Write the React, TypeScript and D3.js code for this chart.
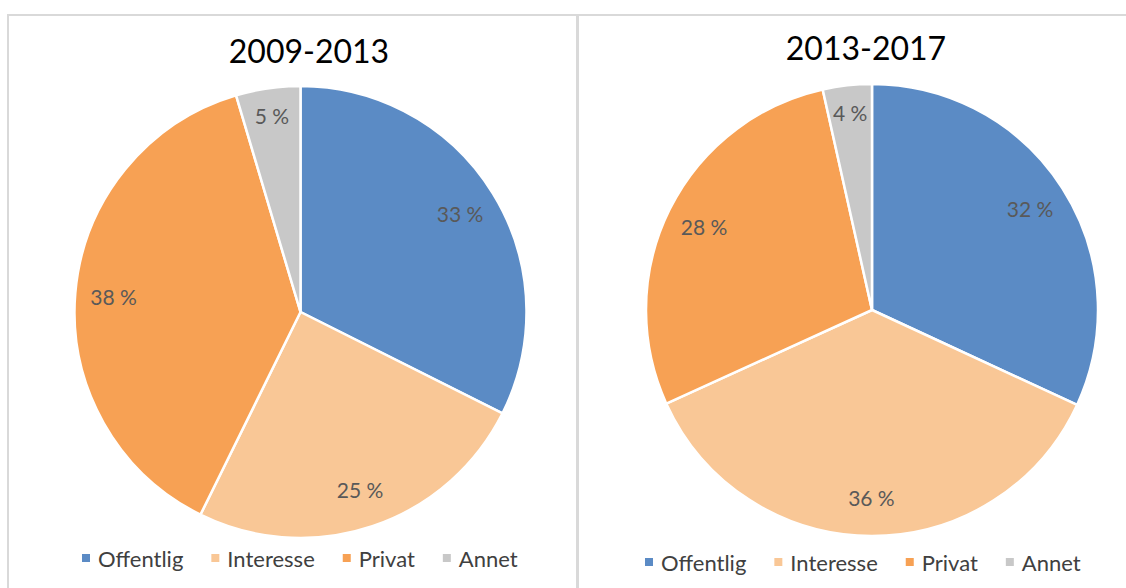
import React, { useEffect, useRef } from "react";
import * as d3 from "d3";

const categories = ["Offentlig", "Interesse", "Privat", "Annet"];
const colors = ["#5B8BC5", "#F9C796", "#F7A154", "#C8C8C8"];
const titles = ["2009-2013", "2013-2017"];
const values2009 = [32.4, 24.9, 38.1, 4.6];
const values2013 = [31.9, 36.3, 28.3, 3.5];
const labels2009 = ["33 %", "25 %", "38 %", "5 %"];
const labels2013 = ["32 %", "36 %", "28 %", "4 %"];

const W = 1126;
const H = 588;
const FONT = "Lato, 'Open Sans', sans-serif";

export default function App() {
  const ref = useRef<SVGSVGElement>(null);

  useEffect(() => {
    const svg = d3.select(ref.current);
    svg.selectAll("*").remove();

    svg.append("rect").attr("width", W).attr("height", H).attr("fill", "#fff");

    const border = "#D9D9D9";
    svg.append("line").attr("x1", 7).attr("x2", W).attr("y1", 15).attr("y2", 15)
      .attr("stroke", border).attr("stroke-width", 2);
    svg.append("line").attr("x1", 8).attr("x2", 8).attr("y1", 14).attr("y2", H)
      .attr("stroke", border).attr("stroke-width", 2);
    svg.append("line").attr("x1", 577.5).attr("x2", 577.5).attr("y1", 14).attr("y2", H)
      .attr("stroke", border).attr("stroke-width", 3);

    const panels = [
      { values: values2009, labels: labels2009, title: titles[0], cx: 300.5, cy: 312, r: 226, tx: 309, ty: 63, lx: 82, ly: 558 },
      { values: values2013, labels: labels2013, title: titles[1], cx: 872, cy: 310, r: 226, tx: 866, ty: 60, lx: 645, ly: 562 },
    ];

    const pie = d3.pie<number>().value((d) => d).sort(null);

    panels.forEach((p) => {
      const g = svg.append("g").attr("transform", `translate(${p.cx},${p.cy})`);
      const arcs = pie(p.values);
      const arc = d3.arc<d3.PieArcDatum<number>>().innerRadius(0).outerRadius(p.r);
      const labelArc = d3.arc<d3.PieArcDatum<number>>().innerRadius(p.r * 0.83).outerRadius(p.r * 0.83);
      const labelArcSmall = d3.arc<d3.PieArcDatum<number>>().innerRadius(p.r * 0.88).outerRadius(p.r * 0.88);

      g.selectAll("path.slice")
        .data(arcs)
        .enter()
        .append("path")
        .attr("d", arc as any)
        .attr("fill", (_d, i) => colors[i])
        .attr("stroke", "#fff")
        .attr("stroke-width", 2.5)
        .attr("stroke-linejoin", "round");

      g.selectAll("text.lbl")
        .data(arcs)
        .enter()
        .append("text")
        .attr("transform", (d) => {
          const small = d.endAngle - d.startAngle < 0.4;
          const [x, y] = (small ? labelArcSmall : labelArc).centroid(d);
          return `translate(${x},${y})`;
        })
        .attr("text-anchor", "middle")
        .attr("dominant-baseline", "central")
        .attr("font-family", FONT)
        .attr("font-size", 21)
        .attr("fill", "#595959")
        .text((_d, i) => p.labels[i]);

      svg.append("text")
        .attr("x", p.tx)
        .attr("y", p.ty)
        .attr("text-anchor", "middle")
        .attr("font-family", FONT)
        .attr("font-size", 32)
        .attr("fill", "#000")
        .text(p.title);

      let x = p.lx;
      categories.forEach((c, i) => {
        svg.append("rect")
          .attr("x", x).attr("y", p.ly - 4).attr("width", 8).attr("height", 8)
          .attr("fill", colors[i]);
        const t = svg.append("text")
          .attr("x", x + 16).attr("y", p.ly)
          .attr("dominant-baseline", "central")
          .attr("font-family", FONT)
          .attr("font-size", 22)
          .attr("fill", "#404040")
          .text(c);
        const w = (t.node() as SVGTextElement).getComputedTextLength();
        x = x + 16 + w + 28;
      });
    });
  }, []);

  return (
    <svg
      ref={ref}
      width={W}
      height={H}
      style={{ position: "absolute", left: 0, top: 0, display: "block" }}
    />
  );
}
